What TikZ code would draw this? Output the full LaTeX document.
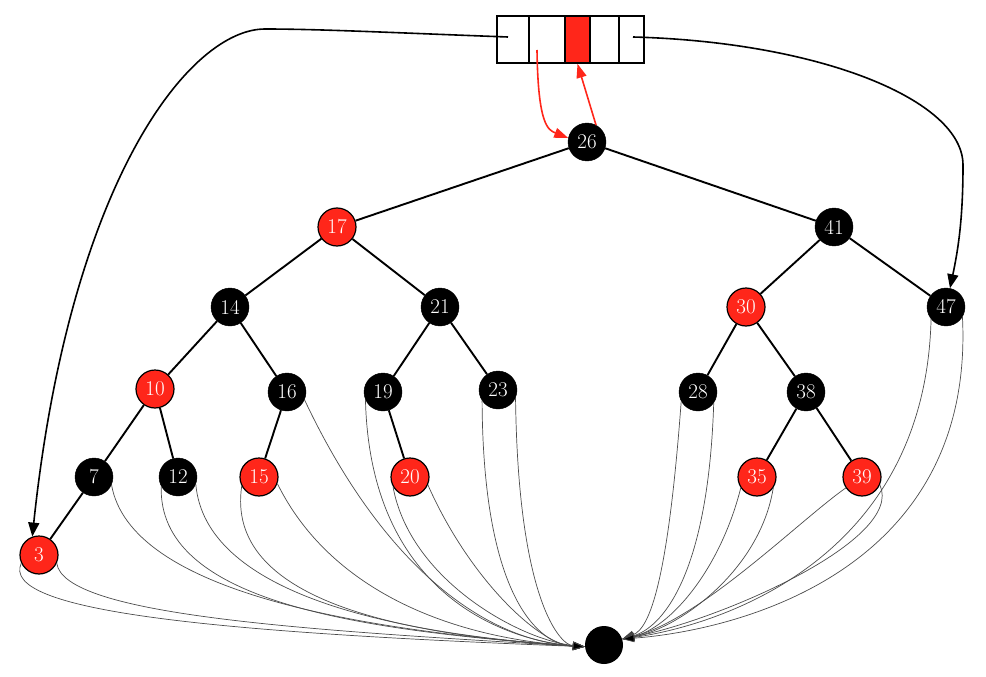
\documentclass[tikz,border=0pt]{standalone}
\usepackage{fontspec}
\usetikzlibrary{arrows.meta}
\definecolor{rbred}{RGB}{255,38,26}
\begin{document}
\begin{tikzpicture}[x=1pt,y=-1pt,
  rbnode/.style={circle,minimum size=38pt,inner sep=0pt,text=white,font=\fontsize{21}{23}\selectfont},
  bk/.style={rbnode,fill=black,draw=black},
  rd/.style={rbnode,fill=rbred,draw=black,line width=1.2pt},
  cell/.style={draw=black,line width=1.6pt,minimum height=47pt,inner sep=0pt},
  tedge/.style={line width=1.9pt},
  ptr/.style={line width=1.6pt,-{Triangle[length=14pt,width=11pt]}},
  rptr/.style={line width=1.6pt,draw=rbred,-{Triangle[length=14pt,width=10pt,fill=rbred]}},
  leaf/.style={line width=0.7pt,draw=black!70,-{Triangle[length=12pt,width=8pt,fill=black]}}]
\useasboundingbox (0,0) rectangle (986,677);
% array
\node[cell,minimum width=32pt] (c1) at (513,39.5) {};
\node[cell,minimum width=36pt] (c2) at (547,39.5) {};
\node[cell,minimum width=25pt,fill=rbred] (c3) at (577.5,39.5) {};
\node[cell,minimum width=29pt] (c4) at (604.5,39.5) {};
\node[cell,minimum width=25pt] (c5) at (631.5,39.5) {};
% nodes
\node[bk] (n26) at (587,142) {26};
\node[rd] (n17) at (337,227) {17};
\node[bk] (n41) at (834,227) {41};
\node[bk] (n14) at (230,307) {14};
\node[bk] (n21) at (440,307) {21};
\node[rd] (n30) at (746,307) {30};
\node[bk] (n47) at (946,307) {47};
\node[rd] (n10) at (155,389) {10};
\node[bk] (n16) at (287,392) {16};
\node[bk] (n19) at (383,392) {19};
\node[bk] (n23) at (498,390) {23};
\node[bk] (n28) at (698,392) {28};
\node[bk] (n38) at (806,392) {38};
\node[bk] (n7) at (94,477) {7};
\node[bk] (n12) at (178,477) {12};
\node[rd] (n15) at (259,477) {15};
\node[rd] (n20) at (410,477) {20};
\node[rd] (n35) at (757,477) {35};
\node[rd] (n39) at (862,477) {39};
\node[rd] (n3) at (39,555) {3};
\node[circle,fill=black,minimum size=38pt,inner sep=0pt] (nil) at (604,645) {};
% tree edges
\foreach \a/\b in {n26/n17,n26/n41,n17/n14,n17/n21,n41/n30,n41/n47,n14/n10,n14/n16,
  n21/n19,n21/n23,n30/n28,n30/n38,n10/n7,n10/n12,n16/n15,n19/n20,n38/n35,n38/n39,n7/n3}
  \draw[tedge] (\a) -- (\b);
% pointers from array
\coordinate (p1) at (508,37);
\coordinate (p5) at (633,37);
\coordinate (p2) at (537,50);
\draw[ptr] (p1) .. controls (400,33) and (320,29) .. (265,29)
  .. controls (190,29) and (70,180) .. (n3.110);
\draw[ptr] (p5) .. controls (820,42) and (963,100) .. (963,165)
  .. controls (963,220) and (958,250) .. (n47.78);
\draw[rptr] (p2) .. controls (538,125) and (548,130) .. (n26.168);
\draw[rptr] (n26.62) -- (c3.south);
% nil pointers, left group
\draw[leaf] (n3.205) .. controls (0,610) and (200,632) .. (nil.185);
\draw[leaf] (n3.-25) .. controls (64,615) and (300,630) .. (nil.185);
\draw[leaf] (n7.-24) .. controls (130,590) and (350,630) .. (nil.185);
\draw[leaf] (n12.209) .. controls (158,600) and (350,630) .. (nil.185);
\draw[leaf] (n12.-22) .. controls (205,590) and (380,633) .. (nil.185);
\draw[leaf] (n15.208) .. controls (225,600) and (400,635) .. (nil.185);
\draw[leaf] (n15.-20) .. controls (330,590) and (450,638) .. (nil.185);
\draw[leaf] (n16.-24) .. controls (380,560) and (480,640) .. (nil.185);
\draw[leaf] (n19.204) .. controls (370,590) and (500,640) .. (nil.185);
\draw[leaf] (n20.210) .. controls (410,580) and (520,640) .. (nil.185);
\draw[leaf] (n20.-24) .. controls (470,580) and (540,645) .. (nil.185);
\draw[leaf] (n23.214) .. controls (483,600) and (540,645) .. (nil.185);
\draw[leaf] (n23.-24) .. controls (518,600) and (560,645) .. (nil.185);
% nil pointers, right group
\draw[leaf] (n28.209) .. controls (668,580) and (650,628) .. (nil.18);
\draw[leaf] (n28.-35) .. controls (708,580) and (660,628) .. (nil.18);
\draw[leaf] (n35.214) .. controls (720,570) and (670,628) .. (nil.18);
\draw[leaf] (n35.-34) .. controls (760,570) and (680,628) .. (nil.18);
\draw[leaf] (n39.214) .. controls (800,520) and (700,620) .. (nil.18);
\draw[leaf] (n39.-24) .. controls (905,540) and (720,620) .. (nil.18);
\draw[leaf] (n47.219) .. controls (925,560) and (720,625) .. (nil.18);
\draw[leaf] (n47.-31) .. controls (975,570) and (740,630) .. (nil.18);
\end{tikzpicture}
\end{document}
